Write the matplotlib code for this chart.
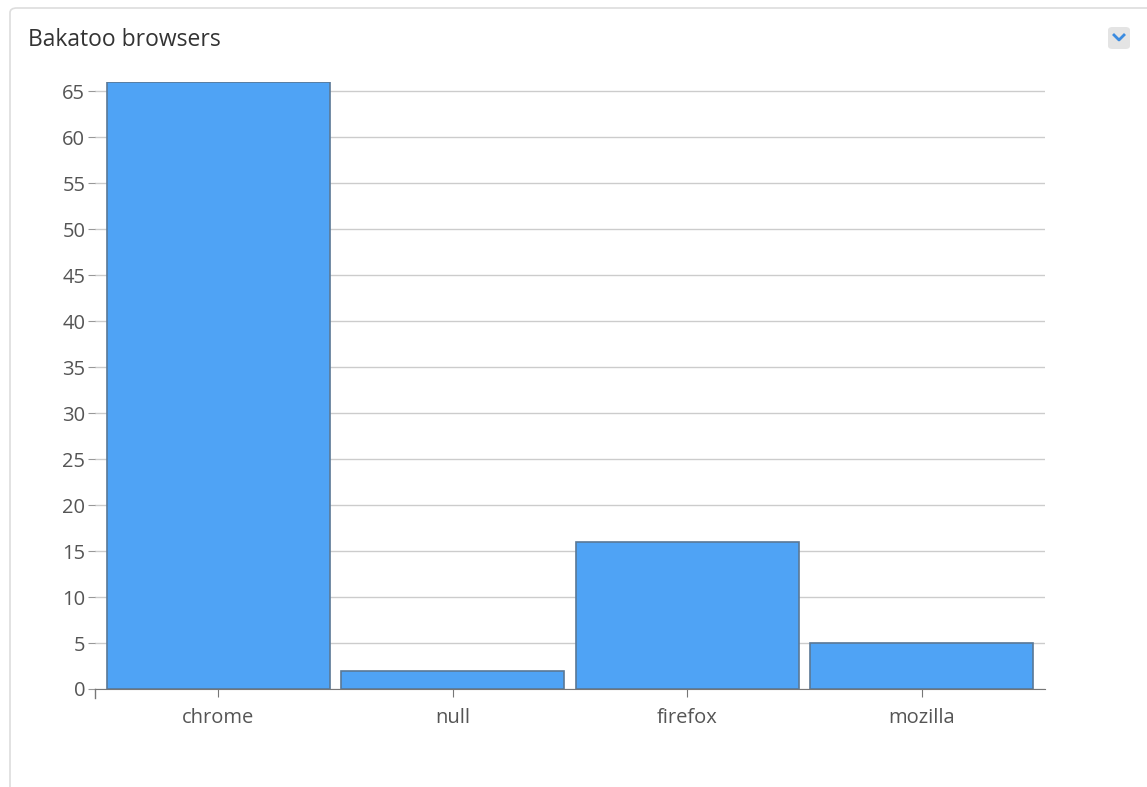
import matplotlib as mpl
mpl.use('Agg')
import matplotlib.pyplot as plt
from matplotlib.patches import FancyBboxPatch

browsers = ['chrome', 'null', 'firefox', 'mozilla']
counts = [66, 2, 16, 5]
yticks = list(range(0, 70, 5))

plt.rcParams['font.family'] = ['Open Sans', 'DejaVu Sans']

fig = plt.figure(figsize=(11.47, 7.87), dpi=100)

# panel frame
frame = FancyBboxPatch((10 / 1147, -0.05), 1.2, 0.05 + 779 / 787,
                       boxstyle='round,pad=0,rounding_size=0.006',
                       transform=fig.transFigure, facecolor='white',
                       edgecolor='#dddddd', linewidth=1.2, zorder=-5)
fig.patches.append(frame)
fig.text(28 / 1147, 1 - 40 / 787, 'Bakatoo browsers', fontsize=16.5,
         color='#333333', va='center', ha='left')

# dropdown button
btn = FancyBboxPatch((1108 / 1147, 1 - 49 / 787), 22 / 1147, 22 / 787,
                     boxstyle='round,pad=0,rounding_size=0.004',
                     transform=fig.transFigure, facecolor='#e4e4e4',
                     edgecolor='none', zorder=-4)
fig.patches.append(btn)
fig.lines.append(plt.Line2D([1114 / 1147, 1119 / 1147, 1124 / 1147],
                            [1 - 35 / 787, 1 - 40 / 787, 1 - 35 / 787],
                            transform=fig.transFigure, color='#3b8be0',
                            linewidth=2))

ax = fig.add_axes([95 / 1147, 98 / 787, 950 / 1147, 607 / 787], zorder=2)
ax.patch.set_visible(False)
ax.bar(range(len(browsers)), counts, width=0.95, color='#4fa3f5',
       edgecolor='#5a7896', linewidth=1.2, zorder=3)

ax.set_xlim(-0.525, 3.525)
ax.set_ylim(0, 66)
ax.set_yticks(yticks)
ax.set_xticks(range(len(browsers)))
ax.set_xticklabels(browsers)
ax.yaxis.grid(True, color='#cccccc', linewidth=1)
ax.set_axisbelow(True)
for s in ['top', 'right']:
    ax.spines[s].set_visible(False)
ax.spines['left'].set_visible(False)
ax.spines['bottom'].set_color('#777777')
ax.tick_params(axis='y', length=5, color='#999999', labelcolor='#555555',
               labelsize=14.5, pad=2)
ax.tick_params(axis='x', length=6, color='#777777', labelcolor='#555555',
               labelsize=14.5, pad=8)
ax.plot([0, 0], [0, -1.0], color='#777777', lw=1, clip_on=False,
        transform=ax.get_yaxis_transform())

fig.savefig('out.png', dpi=100)
